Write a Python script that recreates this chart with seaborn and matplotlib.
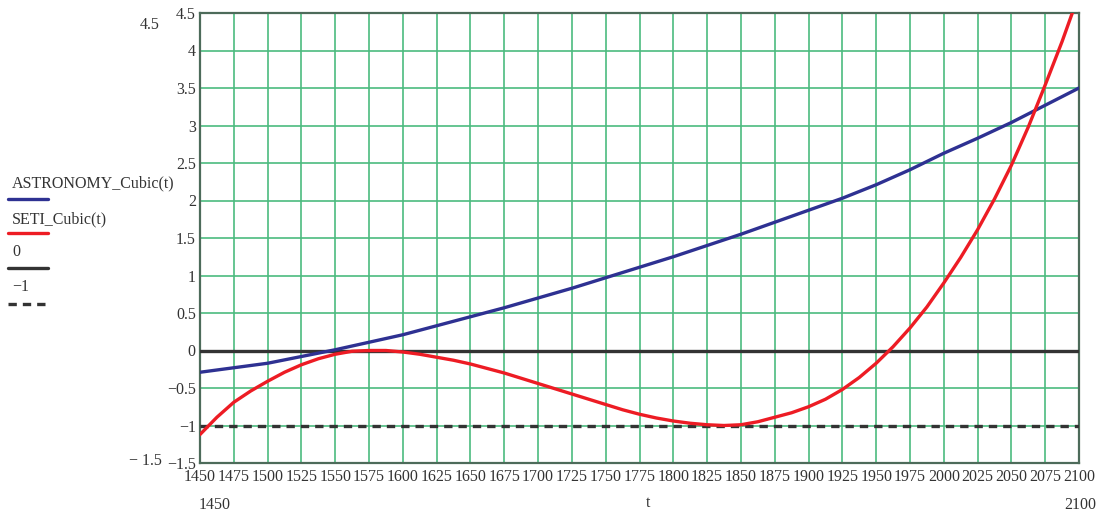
import numpy as np
import pandas as pd
import matplotlib.pyplot as plt
from matplotlib.lines import Line2D
import seaborn as sns

# Valores
t_astro = [1450, 1475, 1500, 1525, 1550, 1575, 1600, 1625, 1650, 1675, 1700, 1725, 1750, 1775,
           1800, 1825, 1850, 1875, 1900, 1925, 1950, 1975, 2000, 2025, 2050, 2075, 2100]
astronomy = [-0.29, -0.23, -0.17, -0.08, 0.01, 0.11, 0.21, 0.33, 0.45, 0.57, 0.70, 0.83, 0.97, 1.11,
             1.25, 1.40, 1.55, 1.71, 1.87, 2.03, 2.21, 2.41, 2.63, 2.83, 3.04, 3.27, 3.50]

t_seti = [1450, 1462.5, 1475, 1487.5, 1500, 1512.5, 1525, 1537.5, 1550, 1562.5, 1575, 1587.5,
          1600, 1612.5, 1625, 1637.5, 1650, 1662.5, 1675, 1687.5, 1700, 1712.5, 1725, 1737.5,
          1750, 1762.5, 1775, 1787.5, 1800, 1812.5, 1825, 1837.5, 1850, 1862.5, 1875, 1887.5,
          1900, 1912.5, 1925, 1937.5, 1950, 1962.5, 1975, 1987.5, 2000, 2012.5, 2025, 2037.5,
          2050, 2062.5, 2075, 2087.5, 2100]
seti = [-1.12, -0.89, -0.69, -0.54, -0.41, -0.29, -0.19, -0.11, -0.05, -0.01, 0.00, 0.00,
        -0.02, -0.05, -0.09, -0.13, -0.18, -0.24, -0.30, -0.37, -0.44, -0.51, -0.58, -0.65,
        -0.72, -0.79, -0.85, -0.90, -0.94, -0.97, -0.99, -1.00, -0.99, -0.95, -0.89, -0.83,
        -0.75, -0.65, -0.52, -0.36, -0.17, 0.05, 0.30, 0.58, 0.90, 1.24, 1.61, 2.02,
        2.47, 2.98, 3.54, 4.12, 4.75]
const_levels = [0, -1]

x_ticks = list(range(1450, 2101, 25))
y_ticks = [-1.5, -1, -0.5, 0, 0.5, 1, 1.5, 2, 2.5, 3, 3.5, 4, 4.5]
legend_labels = ['ASTRONOMY_Cubic(t)', 'SETI_Cubic(t)', '0', '\u22121']

df_astro = pd.DataFrame({'t': t_astro, 'valor': astronomy})
df_seti = pd.DataFrame({'t': t_seti, 'valor': seti})

sns.set_style('white')
plt.rcParams['font.family'] = ['Liberation Serif', 'DejaVu Serif']

fig = plt.figure(figsize=(11.02, 5.13), dpi=100)
ax = fig.add_axes([200 / 1102, 1 - 463 / 513, 879 / 1102, 450 / 513])

blue = '#2e3192'
red = '#ed1c24'
dark = '#333333'

sns.lineplot(data=df_astro, x='t', y='valor', ax=ax, color=blue, linewidth=2.4, zorder=4)
sns.lineplot(data=df_seti, x='t', y='valor', ax=ax, color=red, linewidth=2.4, zorder=5)
ax.axhline(const_levels[0], color=dark, linewidth=2.4, zorder=3)
ax.axhline(const_levels[1], color=dark, linewidth=2.4, linestyle=(0, (2.5, 1.8)), zorder=3)

ax.set_xlim(1450, 2100)
ax.set_ylim(-1.5, 4.5)
ax.set_xticks(x_ticks)
ax.set_yticks(y_ticks)
ax.set_xticklabels([str(v) for v in x_ticks])
ax.set_yticklabels([('%g' % v).replace('-', '\u2212') for v in y_ticks])
ax.tick_params(axis='both', length=0, labelsize=11.5, labelcolor='#333333')
ax.tick_params(axis='x', pad=4)
ax.tick_params(axis='y', pad=3)
ax.grid(True, color='#4cbb7f', linewidth=1.2)
ax.set_axisbelow(True)
for s in ax.spines.values():
    s.set_color('#4d6b5a')
    s.set_linewidth(1.6)
ax.set_xlabel('')
ax.set_ylabel('')

# textos extra al estilo Mathcad
fig.text(150 / 1102, 1 - 25 / 513, '4.5', ha='center', va='center', fontsize=11.5, color='#333333')
fig.text(145 / 1102, 1 - 461 / 513, '\u2212 1.5', ha='center', va='center', fontsize=11.5, color='#333333')
fig.text(215 / 1102, 1 - 505 / 513, '1450', ha='center', va='center', fontsize=11.5, color='#333333')
fig.text(1080 / 1102, 1 - 505 / 513, '2100', ha='center', va='center', fontsize=11.5, color='#333333')
fig.text(648 / 1102, 1 - 503 / 513, 't', ha='center', va='center', fontsize=11.5, color='#333333')

# leyenda a la izquierda
leg_text_y = [183, 219, 252, 287]
leg_line_y = [199, 233, 268, 304]
leg_styles = [dict(color=blue, ls='-'), dict(color=red, ls='-'),
              dict(color=dark, ls='-'), dict(color=dark, ls=(0, (2.5, 1.8)))]
for lab, ty, ly, st in zip(legend_labels, leg_text_y, leg_line_y, leg_styles):
    fig.text(12 / 1102, 1 - ty / 513, lab, ha='left', va='center', fontsize=11.5, color='#333333')
    fig.add_artist(Line2D([8 / 1102, 48 / 1102], [1 - ly / 513, 1 - ly / 513],
                          color=st['color'], linestyle=st['ls'], linewidth=2.4,
                          transform=fig.transFigure))

fig.savefig('out.png', dpi=100)
